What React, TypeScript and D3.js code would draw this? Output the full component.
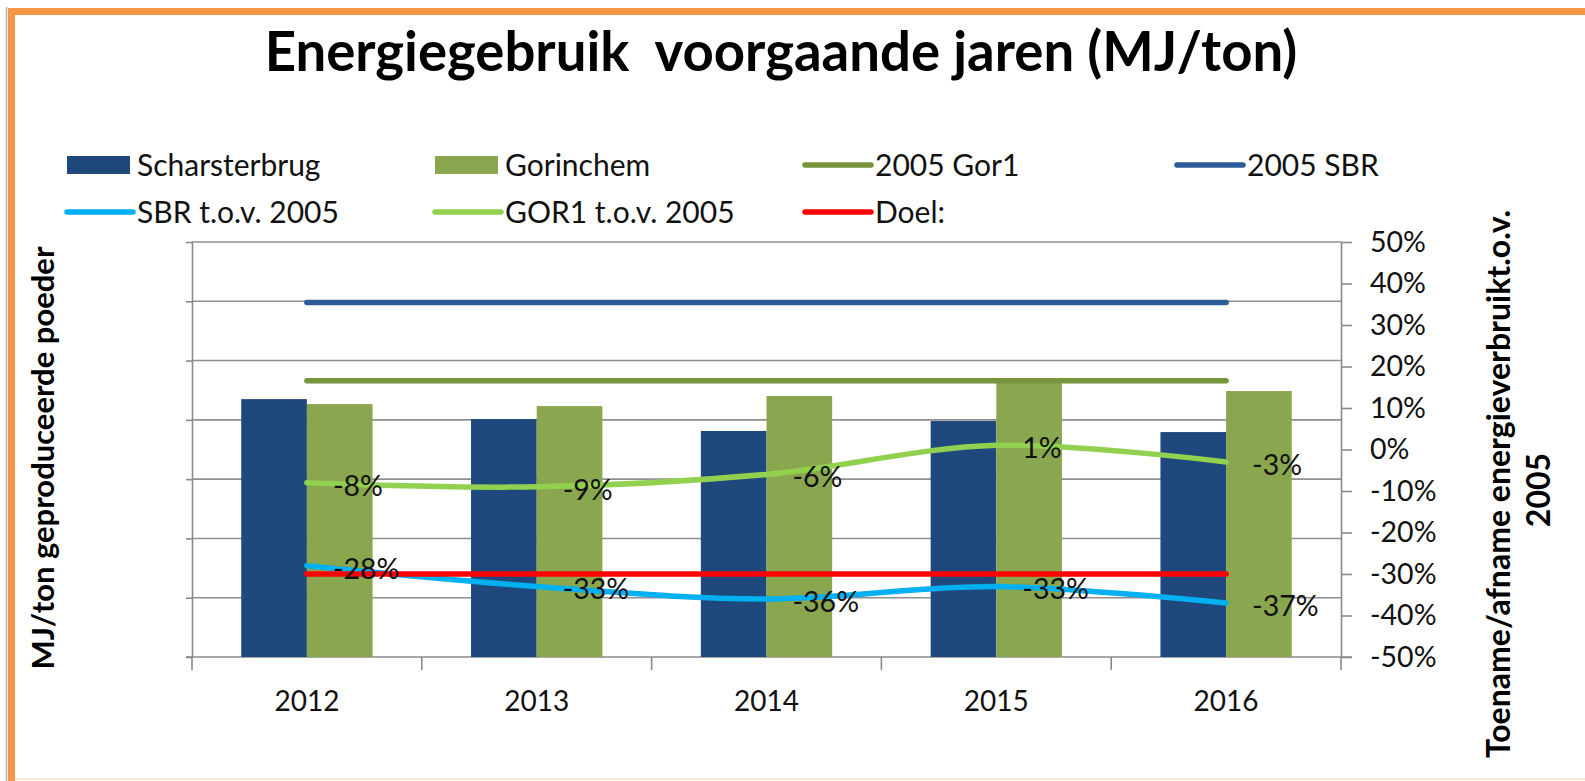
import React, { useRef, useEffect } from "react";
import * as d3 from "d3";

const years = ["2012", "2013", "2014", "2015", "2016"];
// MJ/ton (left axis, no labels in the original – scale estimated)
const scharsterbrug = [2175, 2007, 1906, 1990, 1897];
const gorinchem = [2133, 2116, 2201, 2352, 2243];
const gor1Ref2005 = [2330, 2330, 2330, 2330, 2330];
const sbrRef2005 = [2990, 2990, 2990, 2990, 2990];
// % change vs 2005 (right axis)
const sbrVs2005 = [-28, -33, -36, -33, -37];
const gor1Vs2005 = [-8, -9, -6, 1, -3];
const target = [-30, -30, -30, -30, -30];
const mjTicks = [0, 500, 1000, 1500, 2000, 2500, 3000, 3500];
const pctTicks = [-50, -40, -30, -20, -10, 0, 10, 20, 30, 40, 50];

const FONT = "Lato, 'Open Sans', sans-serif";

const legendItems = [
  { label: "Scharsterbrug", kind: "rect", color: "#1F497D" },
  { label: "Gorinchem", kind: "rect", color: "#8AA64F" },
  { label: "2005 Gor1", kind: "line", color: "#77933C" },
  { label: "2005 SBR", kind: "line", color: "#2D5B97" },
  { label: "SBR t.o.v. 2005", kind: "line", color: "#00B0F0" },
  { label: "GOR1 t.o.v. 2005", kind: "line", color: "#92D050" },
  { label: "Doel:", kind: "line", color: "#FF0000" },
];

const App: React.FC = () => {
  const ref = useRef<SVGSVGElement | null>(null);

  useEffect(() => {
    if (!ref.current) return;
    const svg = d3.select(ref.current);
    svg.selectAll("*").remove();

    const width = 1585;
    const height = 781;
    const plot = { left: 192, right: 1341, top: 242, bottom: 657 };

    svg.attr("width", width).attr("height", height).style("font-family", FONT);

    // frame
    svg.append("rect").attr("width", width).attr("height", height).attr("fill", "#fff");
    svg
      .append("line")
      .attr("x1", 6.5).attr("x2", 6.5).attr("y1", 7).attr("y2", height)
      .attr("stroke", "#b4b4b4").attr("stroke-width", 1.5);
    svg
      .append("path")
      .attr("d", `M11.5,${height} V11.5 H${width}`)
      .attr("fill", "none").attr("stroke", "#F79646").attr("stroke-width", 7);
    svg
      .append("line")
      .attr("x1", 15).attr("x2", width).attr("y1", 779).attr("y2", 779)
      .attr("stroke", "#FBE4D5").attr("stroke-width", 2);

    // title
    svg
      .append("text")
      .attr("x", 781).attr("y", 71)
      .attr("text-anchor", "middle")
      .style("white-space", "pre")
      .attr("font-size", 54.5).attr("font-weight", "bold")
      .text("Energiegebruik  voorgaande jaren (MJ/ton)");

    // scales
    const x0 = d3.scaleBand().domain(years).range([plot.left, plot.right]);
    const x1 = d3
      .scaleBand()
      .domain(["sbr", "gor"])
      .range([0, x0.bandwidth()])
      .paddingInner(0)
      .paddingOuter(0.75);
    const yL = d3.scaleLinear().domain([0, 3500]).range([plot.bottom, plot.top]);
    const yR = d3.scaleLinear().domain([-50, 50]).range([plot.bottom, plot.top]);
    const cx = (i: number) => (x0(years[i]) || 0) + x0.bandwidth() / 2;

    // gridlines
    svg
      .append("g")
      .selectAll("line")
      .data(mjTicks.slice(1))
      .enter()
      .append("line")
      .attr("x1", plot.left).attr("x2", plot.right)
      .attr("y1", (d) => yL(d)).attr("y2", (d) => yL(d))
      .attr("stroke", "#8f8f8f").attr("stroke-width", 1.6);

    // left axis (no labels)
    const gl = svg
      .append("g")
      .attr("transform", `translate(${plot.left},0)`)
      .call(d3.axisLeft(yL).tickValues(mjTicks).tickSize(6).tickSizeOuter(0).tickFormat(() => ""));
    gl.selectAll("path,line").attr("stroke", "#8a8a8a").attr("stroke-width", 1.6);

    // right axis
    const gr = svg
      .append("g")
      .attr("transform", `translate(${plot.right},0)`)
      .call(
        d3.axisRight(yR).tickValues(pctTicks).tickSize(11).tickSizeOuter(0).tickPadding(18)
          .tickFormat((d) => `${d}%`)
      );
    gr.selectAll("path,line").attr("stroke", "#8a8a8a").attr("stroke-width", 1.6);
    gr.selectAll("text").attr("font-size", 28.5).attr("font-family", FONT).attr("fill", "#111");

    // x axis
    const gx = svg
      .append("g")
      .attr("transform", `translate(0,${plot.bottom})`)
      .call(d3.axisBottom(x0).tickSize(0).tickSizeOuter(0));
    gx.select(".domain").attr("stroke", "#8a8a8a").attr("stroke-width", 1.6)
      .attr("d", `M${plot.left - 6},0H${plot.right + 11}`);
    gx.selectAll("text").attr("y", 44).attr("dy", "0.35em")
      .attr("font-size", 28).attr("font-family", FONT).attr("fill", "#111");
    const bounds = [...years.map((y) => x0(y) || 0), plot.right];
    gx.append("g")
      .selectAll("line")
      .data(bounds)
      .enter()
      .append("line")
      .attr("x1", (d) => d).attr("x2", (d) => d)
      .attr("y1", 0).attr("y2", 13)
      .attr("stroke", "#8a8a8a").attr("stroke-width", 1.6);

    // bars
    svg
      .append("g")
      .selectAll("g")
      .data(years)
      .enter()
      .append("g")
      .attr("transform", (d) => `translate(${x0(d)},0)`)
      .selectAll("rect")
      .data((_, i) => [
        { key: "sbr", value: scharsterbrug[i] },
        { key: "gor", value: gorinchem[i] },
      ])
      .enter()
      .append("rect")
      .attr("x", (d) => x1(d.key) || 0)
      .attr("y", (d) => yL(d.value))
      .attr("width", x1.bandwidth())
      .attr("height", (d) => plot.bottom - yL(d.value))
      .attr("fill", (d) => (d.key === "sbr" ? "#1F497D" : "#8AA64F"));

    const drawLine = (
      values: number[],
      y: d3.ScaleLinear<number, number>,
      color: string,
      curve: d3.CurveFactory
    ) => {
      const line = d3
        .line<number>()
        .x((_, i) => cx(i))
        .y((d) => y(d))
        .curve(curve);
      svg
        .append("path")
        .attr("d", line(values))
        .attr("fill", "none")
        .attr("stroke", color)
        .attr("stroke-width", 5.5)
        .attr("stroke-linecap", "round")
        .attr("stroke-linejoin", "round");
    };

    drawLine(gor1Ref2005, yL, "#77933C", d3.curveLinear);
    drawLine(sbrRef2005, yL, "#2D5B97", d3.curveLinear);
    drawLine(sbrVs2005, yR, "#00B0F0", d3.curveCatmullRom);
    drawLine(gor1Vs2005, yR, "#92D050", d3.curveCatmullRom);
    drawLine(target, yR, "#FF0000", d3.curveLinear);

    // data labels
    const labels = svg.append("g").attr("font-size", 28.5).attr("fill", "#111");
    [sbrVs2005, gor1Vs2005].forEach((series) => {
      labels
        .append("g")
        .selectAll("text")
        .data(series)
        .enter()
        .append("text")
        .attr("x", (_, i) => cx(i) + 26)
        .attr("y", (d) => yR(d) + 3)
        .attr("dy", "0.35em")
        .text((d) => `${d}%`);
    });

    // axis titles
    svg
      .append("text")
      .attr("transform", `translate(43,458) rotate(-90)`)
      .attr("text-anchor", "middle").attr("dy", "0.35em")
      .attr("font-size", 31).attr("font-weight", "bold")
      .text("MJ/ton geproduceerde poeder");
    const rt = svg
      .append("text")
      .attr("transform", `translate(1499,484) rotate(-90)`)
      .attr("text-anchor", "middle")
      .attr("font-size", 32).attr("font-weight", "bold");
    rt.append("tspan").attr("x", 0).attr("dy", "0.35em").text("Toename/afname energieverbruikt.o.v.");
    rt.append("tspan").attr("x", -6).attr("dy", 40).text("2005");

    // legend
    const cols = [67, 435, 805, 1177];
    const rows = [165, 212];
    const lg = svg.append("g").attr("font-size", 30).attr("fill", "#111");
    legendItems.forEach((item, i) => {
      const x = cols[i % 4];
      const y = rows[Math.floor(i / 4)];
      const g = lg.append("g").attr("transform", `translate(${x},${y})`);
      if (item.kind === "rect") {
        g.append("rect").attr("x", 0).attr("y", -9).attr("width", 63).attr("height", 18).attr("fill", item.color);
      } else {
        g.append("line").attr("x1", 0).attr("x2", 66).attr("y1", 0).attr("y2", 0)
          .attr("stroke", item.color).attr("stroke-width", 5.5).attr("stroke-linecap", "round");
      }
      g.append("text").attr("x", 70).attr("dy", "0.35em").text(item.label);
    });
  }, []);

  return (
    <div style={{ position: "absolute", left: 0, top: 0 }}>
      <svg ref={ref} />
    </div>
  );
};

export default App;
